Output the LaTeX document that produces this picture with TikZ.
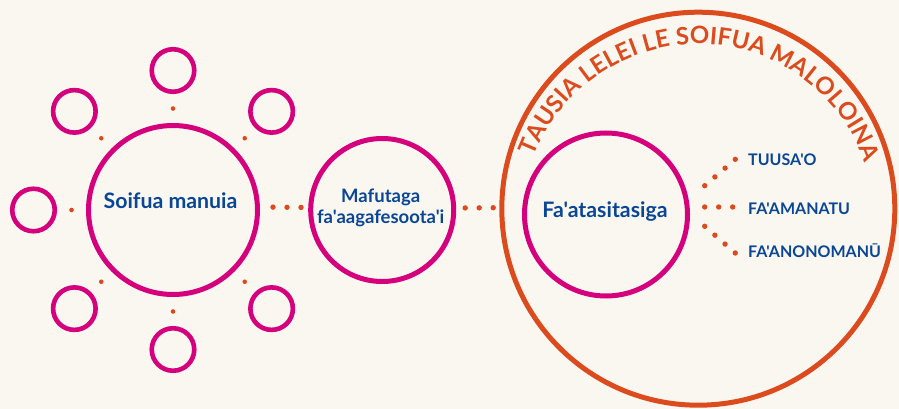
\documentclass[tikz,border=0pt]{standalone}
\usepackage{fontspec}
\setmainfont{Lato}[Ligatures=TeXOff]
\newfontfamily\lb{Lato Bold}[Ligatures=TeXOff]
\usetikzlibrary{calc,decorations.text,decorations.markings}
\definecolor{bg}{HTML}{FAF7F0}
\definecolor{mag}{HTML}{D5007B}
\definecolor{orng}{HTML}{DC4B1E}
\definecolor{navy}{HTML}{0A4696}
\newcommand\arcfont{\lb\fontsize{24}{24}\selectfont\color{orng}}
\begin{document}
\begin{tikzpicture}[x=1pt,y=1pt,
  ring/.style={circle, draw=mag, line width=5pt, inner sep=0pt, minimum size=#1},
  smallring/.style={circle, draw=mag, line width=4.6pt, inner sep=0pt, minimum size=42.5pt},
  bigring/.style={circle, draw=orng, line width=5pt, inner sep=0pt, minimum size=#1},
  lbl/.style={text=navy, inner sep=0pt, font=\lb\fontsize{#1}{#1}\selectfont},
  side/.style={text=navy, inner sep=0pt, anchor=base west, font=\lb\fontsize{16}{16}\selectfont},
  dotat/.style={postaction={decorate, decoration={markings, mark=at position #1 with {\fill[orng] (0,0) circle (2.7pt);}}}},
  sdot/.style={postaction={decorate, decoration={markings, mark=at position 0.5 with {\fill[orng] (0,0) circle (2.3pt);}}}},
  fan/.style={dotat=0, dotat=0.3333, dotat=0.6667, dotat=0.9999},
  fan3/.style={dotat=0, dotat=0.5, dotat=0.9999}
]
\fill[bg] (0,0) rectangle (899,-409);
\useasboundingbox (0,0) rectangle (899,-409);

% left cluster
\node[ring=169pt] (big) at (173,-210) {};
\foreach \a [count=\i] in {90,45,-45,-90,-135,180,135}
  \node[smallring] (s\i) at ($(big.center)+(\a:139.5)$) {};
\foreach \i in {1,...,7}
  \path[sdot] (big) -- (s\i);
\node[lbl=21.3, anchor=base] (bigt) at ($(big.center)+(-2.5,1.3)$) {Soifua manuia};

% middle
\node[ring=143pt] (mid) at (382.2,-210) {};
\node[lbl=18.5, anchor=base] (midt1) at ($(mid.center)+(-1.5,7.3)$) {Mafutaga};
\node[lbl=18.5, anchor=base] (midt2) at ($(mid.center)+(-1.5,-13.3)$) {fa'aagafesoota'i};

% right
\node[bigring=393pt] (outer) at (698.3,-208.7) {};
\node[ring=163pt] (fa) at (606,-214.5) {};
\node[lbl=21.3, anchor=base] (fat) at ($(fa.center)+(-1,-2.8)$) {Fa'atasitasiga};

\path[dotat=13pt, dotat=27pt, dotat=41pt] ([yshift=3pt]big.east) -- ([yshift=2.5pt]mid.west);
\path[dotat=9pt, dotat=23pt, dotat=37pt] ([yshift=2pt]mid.east) -- ([yshift=7pt]fa.west);

% curved title
\coordinate (arcc) at ($(outer.center)+(0,-11.3)$);
\path[decorate, decoration={text along path, text align=fit to path,
   text={|\arcfont|TAUSIA LELEI LE SOIFUA MALOLOINA}}]
   ($(arcc)+(159:176)$) arc[start angle=159, end angle=19, radius=176];

% labels and fans
\node[side] (l1) at (748,-165) {TUUSA'O};
\node[side] (l2) at (748,-214) {FA'AMANATU};
\node[side] (l3) at (748,-257.3) {FA'ANONOMANŪ};
\coordinate (u1) at (704.7,-185.7);
\coordinate (u2) at (735.3,-159.3);
\coordinate (m1) at (704.7,-207);
\coordinate (m2) at (732.7,-207);
\coordinate (d1) at (704.7,-226.3);
\coordinate (d2) at (735.3,-253);
\path[fan] (u1) -- (u2);
\path[fan3] (m1) -- (m2);
\path[fan] (d1) -- (d2);
\end{tikzpicture}
\end{document}
